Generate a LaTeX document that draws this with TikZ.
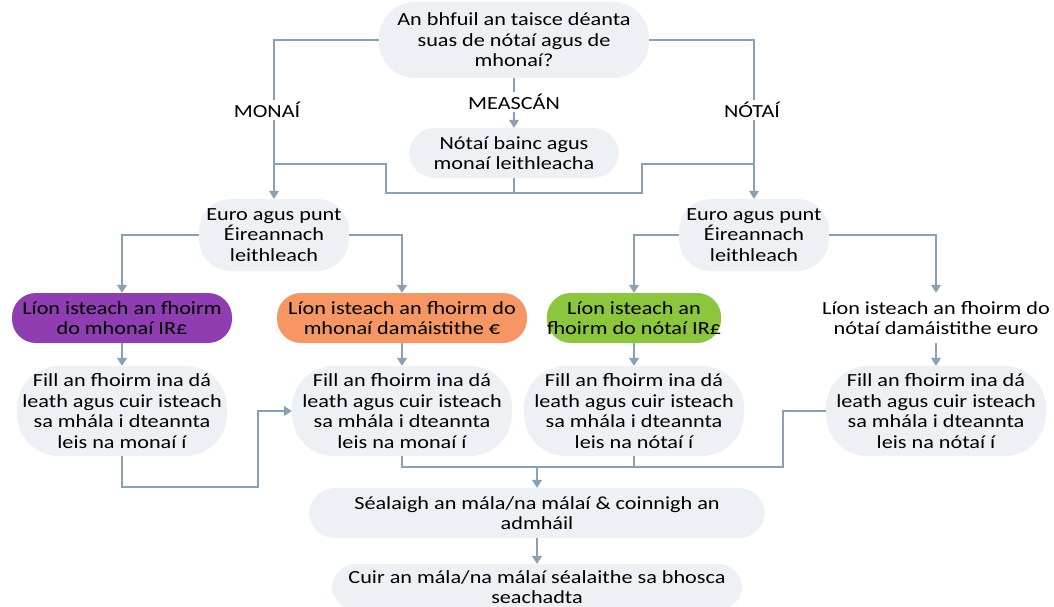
\documentclass[tikz,border=0pt]{standalone}
\usepackage{fontspec}
\setmainfont{Carlito}[FakeStretch=1.2]
\usetikzlibrary{arrows.meta}
\definecolor{boxfill}{RGB}{237,241,245}
\definecolor{linec}{RGB}{138,160,180}
\definecolor{purp}{RGB}{142,62,176}
\definecolor{oran}{RGB}{245,150,100}
\definecolor{gree}{RGB}{140,198,63}
\begin{document}
\begin{tikzpicture}[x=1pt,y=-1pt,
  every node/.style={font=\fontsize{18.5}{20.5}\selectfont, align=center, inner sep=0pt},
  bx/.style={fill=boxfill, rounded corners=#1},
  bx/.default=28pt,
  lbl/.style={fill=white, inner sep=2pt},
  conn/.style={draw=linec, line width=1.3pt},
  arr/.style={conn, -{Triangle[width=10pt,length=8pt]}, shorten >=0pt}
]
\fill[white] (0,0) rectangle (1054,607);
\useasboundingbox (0,0) rectangle (1054,607);

% nodes
\node[bx=36pt, minimum width=270pt, minimum height=76pt] (top) at (514,40)
  {An bhfuil an taisce déanta\\suas de nótaí agus de\\mhonaí?};
\node[bx=26pt, minimum width=210pt, minimum height=50pt] (mix) at (514,153)
  {Nótaí bainc agus\\monaí leithleacha};
\node[bx=32pt, minimum width=150pt, minimum height=72pt] (eL) at (274,235)
  {Euro agus punt\\Éireannach\\leithleach};
\node[bx=32pt, minimum width=150pt, minimum height=72pt] (eR) at (754,235)
  {Euro agus punt\\Éireannach\\leithleach};
\node[fill=purp, rounded corners=24pt, minimum width=220pt, minimum height=50pt] (p) at (122,318)
  {Líon isteach an fhoirm\\do mhonaí IR£};
\node[fill=oran, rounded corners=24pt, minimum width=250pt, minimum height=50pt] (o) at (402,318)
  {Líon isteach an fhoirm do\\mhonaí damáistithe €};
\node[fill=gree, rounded corners=24pt, minimum width=142pt, minimum height=50pt] (g) at (634,318)
  {Líon isteach an\\fhoirm do nótaí IR£};
\node[fill=white, minimum width=250pt, minimum height=50pt] (r) at (936,318)
  {Líon isteach an fhoirm do\\nótaí damáistithe euro};
\node[bx=42pt, minimum width=210pt, minimum height=90pt] (f1) at (122,411)
  {Fill an fhoirm ina dá\\leath agus cuir isteach\\sa mhála i dteannta\\leis na monaí í};
\node[bx=42pt, minimum width=220pt, minimum height=90pt] (f2) at (402,411)
  {Fill an fhoirm ina dá\\leath agus cuir isteach\\sa mhála i dteannta\\leis na monaí í};
\node[bx=42pt, minimum width=220pt, minimum height=90pt] (f3) at (634,411)
  {Fill an fhoirm ina dá\\leath agus cuir isteach\\sa mhála i dteannta\\leis na nótaí í};
\node[bx=42pt, minimum width=220pt, minimum height=90pt] (f4) at (936,411)
  {Fill an fhoirm ina dá\\leath agus cuir isteach\\sa mhála i dteannta\\leis na nótaí í};
\node[bx=26pt, minimum width=456pt, minimum height=50pt] (s) at (537,513)
  {Séalaigh an mála/na málaí \& coinnigh an\\admháil};
\node[bx=24pt, minimum width=410pt, minimum height=46pt] (c) at (537,587)
  {Cuir an mála/na málaí séalaithe sa bhosca\\seachadta};

% junction coordinates
\coordinate (jl1) at (386,193);
\coordinate (jl3) at (274,164);
\coordinate (jr1) at (642,193);
\coordinate (jr3) at (754,164);
\coordinate (b1) at (258,487);
\coordinate (mm) at (537,467);
\coordinate (b4) at (783,467);

% connectors
\draw[arr] (top.west) -| (eL.north);
\draw[arr] (top.east) -| (eR.north);
\draw[arr] (top.south) -- (mix.north);
\draw[conn] (mix.south) |- (jl1) |- (jl3);
\draw[conn] (mix.south) |- (jr1) |- (jr3);
\draw[arr] (eL.west) -| (p.north);
\draw[arr] (eL.east) -| (o.north);
\draw[arr] (eR.west) -| (g.north);
\draw[arr] (eR.east) -| (r.north);
\draw[arr] (p.south) -- (f1.north);
\draw[arr] (o.south) -- (f2.north);
\draw[arr] (g.south) -- (f3.north);
\draw[arr] (r.south) -- (f4.north);
\draw[arr] (f1.south) |- (b1) |- (f2.west);
\draw[conn] (f2.south) |- (mm);
\draw[conn] (f3.south) |- (mm);
\draw[conn] (f4.west) -| (b4) -- (mm);
\draw[arr] (mm) -- (s.north);
\draw[arr] (s.south) -- (c.north);

% branch labels
\node[lbl] (lm) at (267,110) {MONAÍ};
\node[lbl] (lx) at (514,102) {MEASCÁN};
\node[lbl] (ln) at (752,110) {NÓTAÍ};
\end{tikzpicture}
\end{document}
